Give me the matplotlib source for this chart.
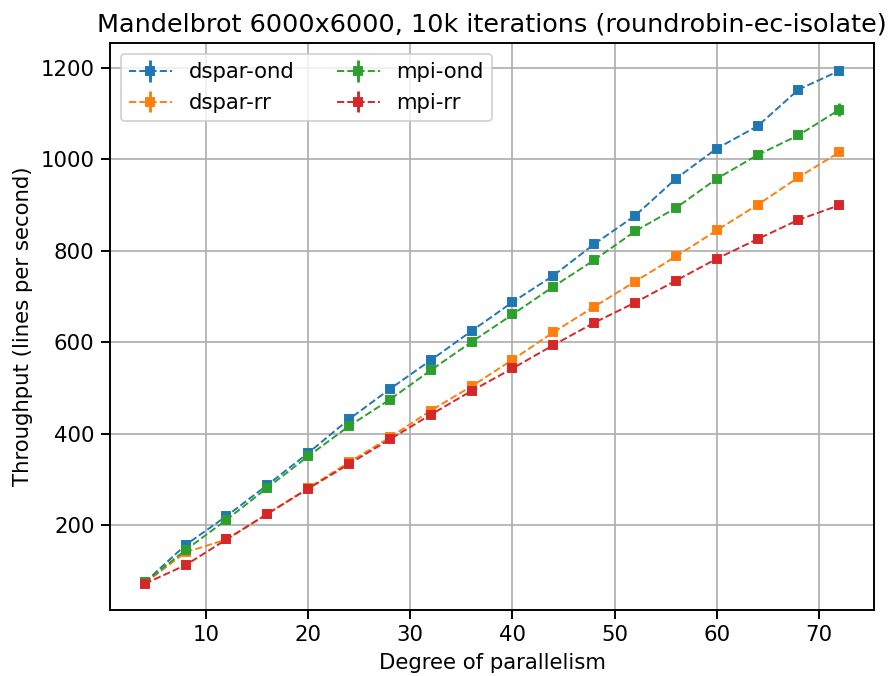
import numpy as np
import matplotlib
matplotlib.use("Agg")
import matplotlib.pyplot as plt

# degree of parallelism
parallelism = [4, 8, 12, 16, 20, 24, 28, 32, 36, 40, 44, 48, 52, 56, 60, 64, 68, 72]

# throughput (lines per second)
dspar_ond = [75, 157, 220, 288, 358, 432, 498, 561, 625, 688, 746, 815, 877, 958, 1024, 1073, 1153, 1194]
dspar_rr = [73, 141, 169, 225, 281, 338, 392, 451, 504, 562, 622, 678, 733, 788, 845, 901, 961, 1016]
mpi_ond = [75, 146, 212, 282, 351, 417, 475, 539, 601, 661, 722, 780, 843, 894, 958, 1010, 1053, 1109]
mpi_rr = [72, 113, 169, 225, 280, 334, 388, 442, 494, 543, 594, 643, 687, 735, 783, 826, 868, 900]

# standard deviations (mostly tiny)
dspar_ond_err = [1, 2, 2, 2, 2, 2, 2, 2, 2, 2, 2, 2, 3, 3, 3, 3, 3, 4]
dspar_rr_err = [1, 1, 1, 1, 1, 2, 2, 2, 2, 2, 2, 2, 2, 2, 2, 3, 3, 3]
mpi_ond_err = [1, 2, 2, 2, 2, 2, 2, 2, 2, 3, 3, 3, 3, 3, 4, 4, 8, 14]
mpi_rr_err = [1, 1, 1, 1, 1, 2, 2, 2, 2, 2, 2, 2, 2, 2, 2, 3, 3, 3]

series = [
    ("dspar-ond", dspar_ond, dspar_ond_err, "tab:blue"),
    ("dspar-rr", dspar_rr, dspar_rr_err, "tab:orange"),
    ("mpi-ond", mpi_ond, mpi_ond_err, "tab:green"),
    ("mpi-rr", mpi_rr, mpi_rr_err, "tab:red"),
]

plt.rcParams["font.size"] = 11
plt.rcParams["axes.linewidth"] = 1.0

fig = plt.figure(figsize=(891 / 139.2, 676 / 139.2), dpi=139.2)
ax = fig.add_axes([0.1235, 0.0976, 0.8575, 0.8385])

for name, vals, errs, col in series:
    ax.errorbar(parallelism, vals, yerr=errs, fmt="s--", ms=4, lw=1.0,
                elinewidth=1.5, color=col, label=name)

ax.set_title("Mandelbrot 6000x6000, 10k iterations (roundrobin-ec-isolate)", fontsize=13.2)
ax.set_xlabel("Degree of parallelism")
ax.set_ylabel("Throughput (lines per second)")
ax.set_yticks([200, 400, 600, 800, 1000, 1200])
ax.tick_params(length=4.5, width=1.0)
ax.grid(True, linewidth=0.9)
ax.legend(loc="upper left", ncol=2)

fig.savefig("out.png", dpi=139.2)
